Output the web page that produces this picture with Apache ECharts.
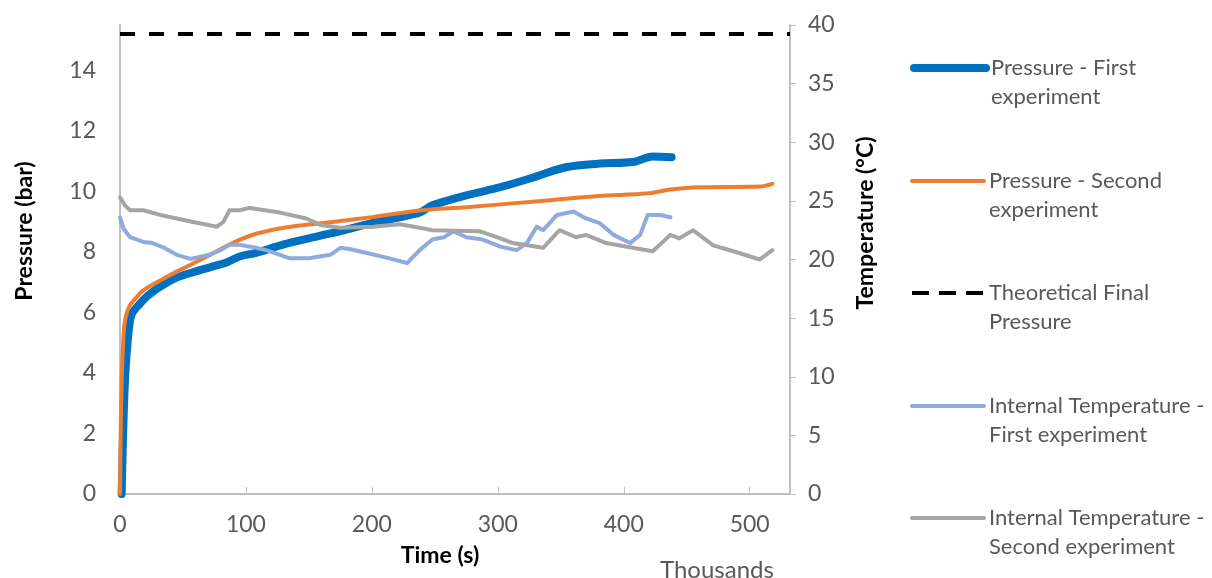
<!DOCTYPE html>
<html>
<head>
<meta charset="utf-8">
<script src="https://cdn.jsdelivr.net/npm/echarts@6/dist/echarts.min.js"></script>
<style>html,body{margin:0;padding:0;background:#fff;}#c{width:1212px;height:578px;}</style>
</head>
<body>
<div id="c"></div>
<script>
// Time in thousands of seconds
const p1Time = [1.3, 2.5, 4, 6, 8, 10, 15, 22, 32, 45, 58, 72, 85, 95, 108, 130, 150, 167, 200, 222, 238, 248, 275, 302, 328, 354, 381, 407, 423, 438];
const p1Val  = [0, 2, 3.8, 5.0, 5.75, 6.0, 6.25, 6.55, 6.85, 7.15, 7.33, 7.5, 7.66, 7.85, 7.97, 8.25, 8.45, 8.61, 8.95, 9.14, 9.3, 9.54, 9.87, 10.14, 10.46, 10.8, 10.92, 10.97, 11.15, 11.13];

const p2Time = [0, 0.7, 1.5, 2.5, 3.5, 5.3, 8, 12, 18.5, 32, 45, 58, 72, 85, 95, 108, 130, 167, 200, 238, 275, 339, 380, 418, 437, 460, 508, 518];
const p2Val  = [0, 2.5, 4.0, 5.0, 5.6, 5.97, 6.25, 6.45, 6.73, 7.06, 7.35, 7.62, 7.92, 8.2, 8.4, 8.6, 8.8, 8.98, 9.15, 9.37, 9.48, 9.7, 9.85, 9.93, 10.06, 10.14, 10.16, 10.25];

const theoTime = [0, 532];
const theoVal  = [15.2, 15.2];

const t1Time = [0, 3, 8, 18.5, 26, 35, 45, 56, 71, 80, 87, 95, 108, 116, 135, 150, 167, 175, 182, 190, 210, 228, 238, 248, 257, 265, 275, 288, 302, 315, 323, 331, 336, 347, 360, 370, 381, 392, 405, 413, 419, 429, 437];
const t1Val  = [23.6, 22.6, 21.9, 21.5, 21.4, 21.0, 20.4, 20.05, 20.4, 20.8, 21.25, 21.25, 21.0, 20.8, 20.1, 20.1, 20.4, 21.0, 20.9, 20.7, 20.2, 19.7, 20.8, 21.7, 21.9, 22.4, 21.9, 21.7, 21.1, 20.8, 21.4, 22.8, 22.5, 23.8, 24.1, 23.5, 23.1, 22.1, 21.4, 22.1, 23.8, 23.8, 23.6];

const t2Time = [0, 4, 8, 18.5, 32, 58, 77, 82, 87, 95, 103, 127, 148, 159, 175, 201, 222, 238, 248, 286, 302, 312, 336, 349, 362, 370, 386, 407, 423, 437, 444, 455, 471, 487, 508, 518];
const t2Val  = [25.3, 24.6, 24.2, 24.2, 23.8, 23.2, 22.8, 23.2, 24.2, 24.2, 24.4, 24.0, 23.5, 22.95, 22.7, 22.8, 23.0, 22.7, 22.5, 22.4, 21.8, 21.4, 21.0, 22.5, 21.9, 22.1, 21.4, 21.0, 20.7, 22.1, 21.8, 22.5, 21.2, 20.7, 20.0, 20.8];

const seriesNames = ['Pressure - First experiment', 'Pressure - Second experiment', 'Theoretical Final Pressure', 'Internal Temperature - First experiment', 'Internal Temperature - Second experiment'];
const legendLabels = ['Pressure - First\nexperiment', 'Pressure - Second\nexperiment', 'Theoretical Final\nPressure', 'Internal Temperature -\nFirst experiment', 'Internal Temperature -\nSecond experiment'];
const seriesColors = ['#0070C0', '#ED7D31', '#000000', '#8FAADC', '#A5A5A5'];
const seriesWidths = [8, 4, 4, 4, 4];

const xTicks = [0, 100, 200, 300, 400, 500];

const zip = (a, b) => a.map((v, i) => [v, b[i]]);

const FONT = 'Lato';
const chart = echarts.init(document.getElementById('c'), null, {renderer: 'canvas'});

const legendCenters = [68, 181, 293, 406, 518];
const legends = seriesNames.map((n, i) => ({
  data: [n],
  left: 910,
  top: legendCenters[i] - 43.5,
  orient: 'vertical',
  padding: 0,
  itemWidth: 72,
  itemHeight: 10,
  selectedMode: false,
  formatter: () => ' \n' + legendLabels[i],
  itemStyle: {opacity: 0},
  lineStyle: {width: seriesWidths[i], cap: i === 2 ? 'butt' : 'round', color: seriesColors[i], type: i === 2 ? [17, 10] : 'solid'},
  textStyle: {fontFamily: FONT, fontSize: 22, color: '#595959', lineHeight: 29}
}));

const option = {
  backgroundColor: '#ffffff',
  animation: false,
  grid: {left: 120, right: 422, top: 25, bottom: 84, containLabel: false},
  legend: legends,
  xAxis: {
    type: 'value', min: 0, max: 532, interval: 100,
    axisLine: {show: true, lineStyle: {color: '#BFBFBF', width: 2}},
    axisTick: {show: true, inside: true, length: 7, lineStyle: {color: '#BFBFBF', width: 1}},
    axisLabel: {fontFamily: FONT, fontSize: 23, color: '#595959', margin: 19, showMaxLabel: false,
      formatter: v => xTicks.indexOf(v) >= 0 ? String(v) : ''},
    splitLine: {show: false}
  },
  yAxis: [{
    type: 'value', min: 0, max: 15.5, interval: 2, position: 'left',
    axisLine: {show: true, lineStyle: {color: '#BFBFBF', width: 2}},
    axisTick: {show: false},
    axisLabel: {fontFamily: FONT, fontSize: 23, color: '#595959', margin: 24, showMaxLabel: false},
    splitLine: {show: false}
  }, {
    type: 'value', min: 0, max: 40, interval: 5, position: 'right',
    axisLine: {show: true, lineStyle: {color: '#BFBFBF', width: 2}},
    axisTick: {show: true, inside: false, length: 6, lineStyle: {color: '#BFBFBF', width: 1}},
    axisLabel: {fontFamily: FONT, fontSize: 23, color: '#595959', margin: 18},
    splitLine: {show: false}
  }],
  graphic: [
    {type: 'text', x: 25, y: 231, rotation: Math.PI / 2,
     style: {text: 'Pressure (bar)', x: 0, y: 0, align: 'center', verticalAlign: 'middle', font: 'bold 23px ' + FONT, fill: '#000'}},
    {type: 'text', x: 866, y: 223, rotation: Math.PI / 2,
     style: {text: 'Temperature (°C)', x: 0, y: 0, align: 'center', verticalAlign: 'middle', font: 'bold 23px ' + FONT, fill: '#000'}},
    {type: 'text', x: 440, y: 556,
     style: {text: 'Time (s)', x: 0, y: 0, align: 'center', verticalAlign: 'middle', font: 'bold 23px ' + FONT, fill: '#000'}},
    {type: 'text', x: 660, y: 570,
     style: {text: 'Thousands', x: 0, y: 0, align: 'left', verticalAlign: 'middle', font: '24px ' + FONT, fill: '#595959'}}
  ],
  series: [
    {name: seriesNames[0], type: 'line', yAxisIndex: 0, data: zip(p1Time, p1Val), showSymbol: false, symbol: 'none', smooth: 0.3,
     lineStyle: {color: seriesColors[0], width: seriesWidths[0], cap: 'round', join: 'round'}, itemStyle: {color: seriesColors[0]}},
    {name: seriesNames[1], type: 'line', yAxisIndex: 0, data: zip(p2Time, p2Val), showSymbol: false, symbol: 'none', smooth: 0.3,
     lineStyle: {color: seriesColors[1], width: seriesWidths[1], cap: 'round'}, itemStyle: {color: seriesColors[1]}},
    {name: seriesNames[2], type: 'line', yAxisIndex: 0, data: zip(theoTime, theoVal), showSymbol: false, symbol: 'none',
     lineStyle: {color: seriesColors[2], width: seriesWidths[2], type: [15, 14]}, itemStyle: {color: seriesColors[2]}},
    {name: seriesNames[3], type: 'line', yAxisIndex: 1, data: zip(t1Time, t1Val), showSymbol: false, symbol: 'none',
     lineStyle: {color: seriesColors[3], width: seriesWidths[3], cap: 'round', join: 'round'}, itemStyle: {color: seriesColors[3]}},
    {name: seriesNames[4], type: 'line', yAxisIndex: 1, data: zip(t2Time, t2Val), showSymbol: false, symbol: 'none',
     lineStyle: {color: seriesColors[4], width: seriesWidths[4], cap: 'round', join: 'round'}, itemStyle: {color: seriesColors[4]}}
  ]
};
chart.setOption(option);
</script>
</body>
</html>
